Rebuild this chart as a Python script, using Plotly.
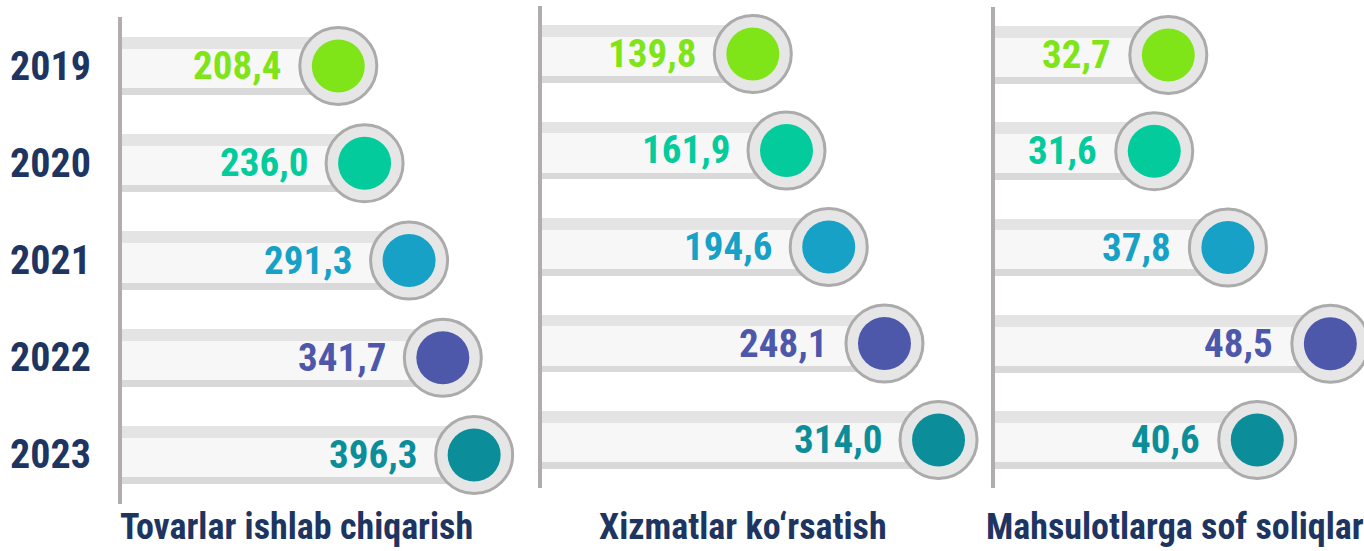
import numpy as np
import plotly.graph_objects as go

years = ["2019", "2020", "2021", "2022", "2023"]
tovarlar = [208.4, 236.0, 291.3, 341.7, 396.3]
xizmatlar = [139.8, 161.9, 194.6, 248.1, 314.0]
soliqlar = [32.7, 31.6, 37.8, 48.5, 40.6]
value_labels = [
    ["208,4", "236,0", "291,3", "341,7", "396,3"],
    ["139,8", "161,9", "194,6", "248,1", "314,0"],
    ["32,7", "31,6", "37,8", "48,5", "40,6"],
]
titles = ["Tovarlar ishlab chiqarish", "Xizmatlar ko\u2018rsatish", "Mahsulotlarga sof soliqlar"]
year_colors = ["#7fe518", "#03cb9c", "#17a1c6", "#4e58ab", "#0c8e9a"]

W, H = 1364, 551
NAVY = "#1e3561"
FONT = "Roboto Condensed, Noto Sans Condensed, Liberation Sans Narrow, Liberation Sans, sans-serif"

panels = [
    dict(vals=tovarlar, xd=[122, 520], xr=[1.87447, 2.69222], yd=[17.4, 503.6], tc=296.5),
    dict(vals=xizmatlar, xd=[542, 985], xr=[1.74661, 2.58483], yd=[5.75, 488.25], tc=742.5),
    dict(vals=soliqlar, xd=[995, 1364], xr=[1.33141, 1.72131], yd=[6.9, 488.1], tc=1175),
]

fig = go.Figure()
annotations = []
layout_axes = {}

for k, p in enumerate(panels):
    sfx = "" if k == 0 else str(k + 1)
    xa, ya = "x" + sfx, "y" + sfx
    vals = p["vals"]
    # tube: bottom band, top band, lighter middle
    for off, wid, col in [(-0.3, 0.6, "#d9d9d9"), (-0.3, 0.528, "#e4e4e4"), (-0.177, 0.405, "#f7f7f7")]:
        fig.add_trace(go.Bar(x=vals, y=years, orientation="h", xaxis=xa, yaxis=ya,
                             width=wid, offset=off, marker=dict(color=col, line=dict(width=0)),
                             hoverinfo="skip", showlegend=False))
    # ring
    fig.add_trace(go.Scatter(x=vals, y=years, mode="markers", xaxis=xa, yaxis=ya,
                             marker=dict(size=77, color="#e6e6e6", line=dict(color="#ababab", width=3)),
                             cliponaxis=False, hoverinfo="skip", showlegend=False))
    # inner colored dot
    fig.add_trace(go.Scatter(x=vals, y=years, mode="markers", xaxis=xa, yaxis=ya,
                             marker=dict(size=53, color=year_colors, line=dict(width=0)),
                             cliponaxis=False, hoverinfo="skip", showlegend=False))
    for i, v in enumerate(vals):
        annotations.append(dict(x=np.log10(v), y=i, xref=xa, yref=ya, text=value_labels[k][i],
                                showarrow=False, xanchor="right", yanchor="middle", xshift=-55,
                                font=dict(family=FONT, size=39, color=year_colors[i], weight="bold")))
    annotations.append(dict(x=p["tc"] / W, y=1 - 527 / H, xref="paper", yref="paper", text=titles[k],
                            showarrow=False, xanchor="center", yanchor="middle",
                            font=dict(family=FONT, size=36, color=NAVY, weight="bold")))
    layout_axes["xaxis" + sfx] = dict(type="log", range=p["xr"], domain=[p["xd"][0] / W, p["xd"][1] / W],
                                      showgrid=False, zeroline=False, showticklabels=False, showline=False,
                                      anchor=ya, fixedrange=True)
    layout_axes["yaxis" + sfx] = dict(type="category", categoryorder="array", categoryarray=years,
                                      range=[4.5, -0.5], autorange=False,
                                      domain=[1 - p["yd"][1] / H, 1 - p["yd"][0] / H],
                                      showgrid=False, zeroline=False, showticklabels=False,
                                      showline=True, linecolor="#b2adad", linewidth=4, ticks="",
                                      anchor=xa, fixedrange=True)

for i, yr in enumerate(years):
    annotations.append(dict(x=8 / W, y=i, xref="paper", yref="y", text=yr, showarrow=False,
                            xanchor="left", yanchor="middle",
                            font=dict(family=FONT, size=40, color=NAVY, weight="bold")))

fig.update_layout(width=W, height=H, margin=dict(l=0, r=0, t=0, b=0),
                  paper_bgcolor="white", plot_bgcolor="rgba(0,0,0,0)",
                  barmode="overlay", bargap=0, annotations=annotations, **layout_axes)

fig.write_html("out.html", config={"displayModeBar": False, "staticPlot": True},
               post_script="document.body.style.margin='0';")
